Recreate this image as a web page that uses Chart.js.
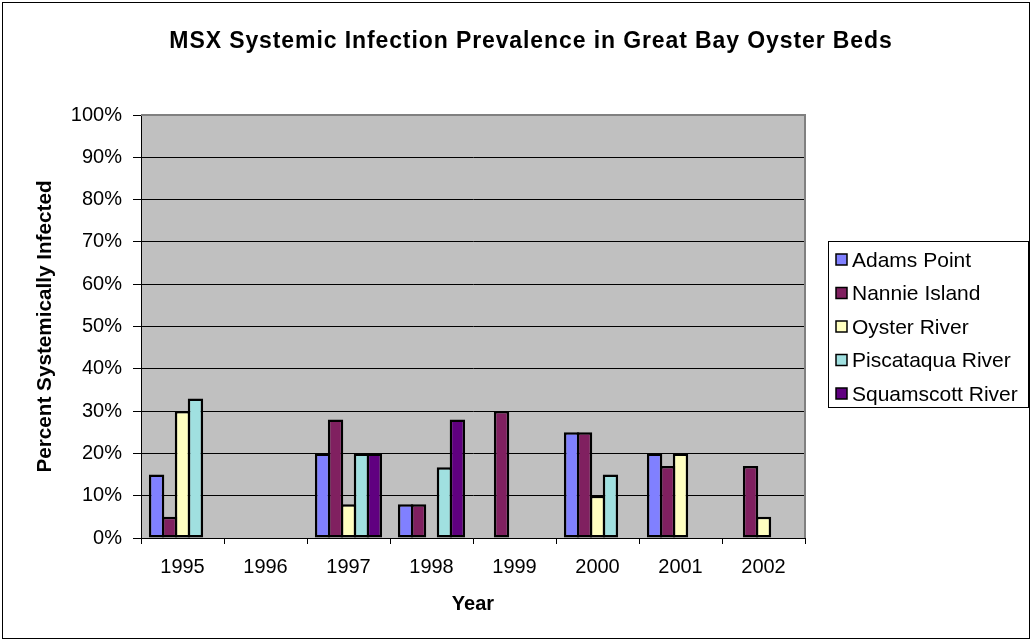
<!DOCTYPE html>
<html>
<head>
<meta charset="utf-8">
<script src="https://cdn.jsdelivr.net/npm/chart.js@4/dist/chart.umd.min.js"></script>
<style>
  html, body { margin: 0; padding: 0; background: #fff; }
  #wrap { width: 1032px; height: 641px; }
</style>
</head>
<body>
<div id="wrap"><canvas id="graphique" width="1032" height="641"></canvas></div>
<script>
// les données
var chartTitle = 'MSX Systemic Infection Prevalence in Great Bay Oyster Beds';
var years = ['1995', '1996', '1997', '1998', '1999', '2000', '2001', '2002'];
var siteNames = ['Adams Point', 'Nannie Island', 'Oyster River', 'Piscataqua River', 'Squamscott River'];
var adamsPoint      = [15, null, 20, 8, null, 25, 20, null];
var nannieIsland    = [5, null, 28, 8, 30, 25, 17, 17];
var oysterRiver     = [30, null, 8, null, null, 10, 20, 5];
var piscataquaRiver = [33, null, 20, 16.7, null, 15, null, null];
var squamscottRiver = [null, null, 20, 28, null, null, null, null];
var siteColors = ['#8080FF', '#802060', '#FFFFC0', '#A0E0E0', '#600080'];
var yTicks = [0, 10, 20, 30, 40, 50, 60, 70, 80, 90, 100];

var FONT = 'Arial, "Liberation Sans", sans-serif';
var seriesValues = [adamsPoint, nannieIsland, oysterRiver, piscataquaRiver, squamscottRiver];

var datasets = [];
for (var i = 0; i < siteNames.length; i++) {
  datasets.push({
    label: siteNames[i],
    data: seriesValues[i],
    backgroundColor: siteColors[i],
    borderColor: '#000000',
    borderWidth: 2.5,
    borderSkipped: false,
    categoryPercentage: 0.78,
    barPercentage: 1.19   // bars overlap so neighbours share one black edge
  });
}

// fond gris de la zone de tracé + cadre + titre + légende
var excelLook = {
  id: 'excelLook',
  beforeDraw: function(chart) {
    var c = chart.ctx, a = chart.chartArea;
    c.save();
    c.fillStyle = '#ffffff';
    c.fillRect(0, 0, chart.width, chart.height);
    c.strokeStyle = '#000000';
    c.lineWidth = 1;
    c.strokeRect(2.5, 2.5, chart.width - 5, chart.height - 5);
    c.fillStyle = '#C0C0C0';
    c.fillRect(a.left, a.top, a.right - a.left, a.bottom - a.top);
    c.restore();
  },
  afterDraw: function(chart) {
    var c = chart.ctx, a = chart.chartArea;
    c.save();
    c.strokeStyle = '#808080';
    c.lineWidth = 2;
    c.beginPath();
    c.moveTo(a.left, a.top);
    c.lineTo(a.right, a.top);
    c.lineTo(a.right, a.bottom);
    c.stroke();

    // titre
    c.fillStyle = '#000000';
    c.font = 'bold 23px ' + FONT;
    c.letterSpacing = '0.9px';
    c.textAlign = 'center';
    c.textBaseline = 'alphabetic';
    c.fillText(chartTitle, 531, 48);
    c.letterSpacing = '0px';

    // légende
    var lx = 828, ly = 241, lw = 200, lh = 166;
    c.fillStyle = '#ffffff';
    c.fillRect(lx, ly, lw, lh);
    c.strokeStyle = '#000000';
    c.lineWidth = 1;
    c.strokeRect(lx + 0.5, ly + 0.5, lw, lh);
    c.font = '21px ' + FONT;
    c.textBaseline = 'middle';
    c.textAlign = 'left';
    chart.data.datasets.forEach(function(ds, k) {
      var cy = 260 + k * 33.5;
      c.fillStyle = ds.backgroundColor;
      c.fillRect(836, cy - 6, 11, 11);
      c.strokeStyle = '#000000';
      c.lineWidth = 1.5;
      c.strokeRect(836, cy - 6, 11, 11);
      c.fillStyle = '#000000';
      c.fillText(ds.label, 852, cy + 1);
    });
    c.restore();
  }
};

var ctx = document.getElementById('graphique');
var myChart = new Chart(ctx, {
  type: 'bar',
  data: { labels: years, datasets: datasets },
  options: {
    responsive: false,
    animation: false,
    devicePixelRatio: 1,
    layout: { padding: { left: 0, right: 227, top: 115, bottom: 21 } },
    plugins: {
      legend: { display: false },
      tooltip: { enabled: false },
      title: { display: false }
    },
    scales: {
      x: {
        afterFit: function(s) { s.height = 82; },
        grid: { display: true, drawOnChartArea: false, drawTicks: true, tickLength: 6, tickColor: '#000000', offset: true },
        border: { display: true, color: '#000000', width: 1 },
        ticks: { color: '#000000', padding: 11, font: { family: FONT, size: 20 }, maxRotation: 0 },
        title: { display: true, text: 'Year', color: '#000000', font: { family: FONT, size: 20, weight: 'bold', lineHeight: 1.2 }, padding: { top: 0, bottom: 4 } }
      },
      y: {
        min: 0,
        max: 100,
        afterFit: function(s) { s.width = 141; },
        afterBuildTicks: function(s) { s.ticks = yTicks.map(function(v) { return { value: v }; }); },
        grid: { color: '#000000', lineWidth: 1, drawTicks: true, tickLength: 8, tickColor: '#000000' },
        border: { display: true, color: '#000000', width: 1 },
        ticks: { color: '#000000', padding: 11, font: { family: FONT, size: 20 }, callback: function(v) { return v + '%'; } },
        title: { display: true, text: 'Percent Systemically Infected', color: '#000000', font: { family: FONT, size: 20.7, weight: 'bold', lineHeight: 1.2 }, padding: { top: 33, bottom: 0 } }
      }
    }
  },
  plugins: [excelLook]
});
</script>
</body>
</html>
